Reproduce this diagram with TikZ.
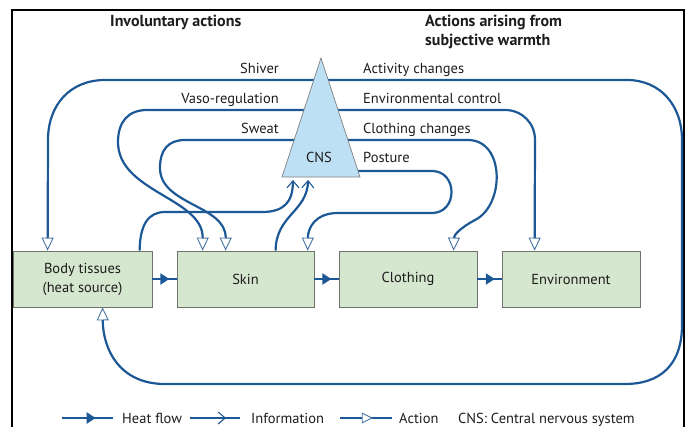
\documentclass[tikz,border=0pt]{standalone}
\usepackage{fontspec}
\setmainfont{PT Sans}
\usetikzlibrary{arrows.meta,decorations.markings,calc}
\definecolor{lineblue}{RGB}{28,88,150}
\definecolor{boxgreen}{RGB}{213,231,207}
\definecolor{boxedge}{RGB}{110,115,110}
\definecolor{cnsblue}{RGB}{190,224,245}
\definecolor{txt}{RGB}{30,28,28}
\definecolor{actedge}{RGB}{70,115,165}
\tikzset{
  Act/.tip={Triangle[length=13pt,width=12pt,color=actedge,fill=white,line width=0.9pt]},
  SAct/.tip={Triangle[length=11pt,width=11pt,color=actedge,fill=white,line width=0.9pt]},
  Inf/.tip={Straight Barb[length=7pt,width=12pt,line width=1.1pt]},
  Heat/.tip={Triangle[length=9pt,width=11pt]},
  flow/.style={draw=lineblue,line width=2.2pt},
  heatmid/.style={postaction={decorate,decoration={markings,mark=at position #1 with {\arrow{Heat}}}}},
  infmid/.style={postaction={decorate,decoration={markings,mark=at position #1 with {\arrow{Inf}}}}},
  actmid/.style={postaction={decorate,decoration={markings,mark=at position #1 with {\arrow{SAct}}}}},
  box/.style={draw=boxedge,fill=boxgreen,line width=0.8pt,minimum height=56pt,inner sep=0pt,text=txt,align=center,font=\fontsize{14.5}{19}\selectfont},
  lab/.style={text=txt,inner sep=0pt,font=\fontsize{14.5}{17}\selectfont},
  ttl/.style={text=txt,inner sep=0pt,align=left,font=\fontsize{16}{18}\selectfont\bfseries},
}
\begin{document}
\begin{tikzpicture}[x=1pt,y=-1pt]
\useasboundingbox (0,0) rectangle (688,426);
\draw[line width=1.6pt] (12,430) -- (12,10) -- (684,10) -- (684,430);

% titles
\node[ttl,anchor=base west] (t1) at (110,26.5) {Involuntary actions};
\node[ttl,anchor=base west] (t2) at (425,26.5) {Actions arising from};
\node[ttl,anchor=base west] (t3) at (425,45) {subjective warmth};

% boxes
\node[box,minimum width=139pt] (body) at (82.5,279) {Body tissues\\(heat source)};
\node[box,minimum width=137pt] (skin) at (245.5,279) {Skin};
\node[box,minimum width=138pt] (cloth) at (408,279) {Clothing};
\node[box,minimum width=138pt] (env) at (571,279) {Environment};

% anchor points
\coordinate (bT) at ($(body.north west)+(35,0)$);
\coordinate (bB) at ($(body.south west)+(90,0)$);
\coordinate (bI) at ($(body.north west)+(127,0)$);
\coordinate (sA) at ($(skin.north west)+(26,0)$);
\coordinate (sB) at ($(skin.north west)+(49,0)$);
\coordinate (sI) at ($(skin.north west)+(99,0)$);
\coordinate (sC) at ($(skin.north west)+(131,0)$);
\coordinate (cA) at ($(cloth.north west)+(115,0)$);
\coordinate (eA) at ($(env.north west)+(33,0)$);
\coordinate (apex) at (321,58);
\coordinate (tl) at (282,177);
\coordinate (tr) at (360,177);
\coordinate (iA) at ($(tl)!0.14!(tr)+(0,3)$);
\coordinate (iB) at ($(tl)!0.335!(tr)+(0,3)$);

% heat flow between boxes
\draw[flow,heatmid=0.7] (body.east) -- (skin.west);
\draw[flow,heatmid=0.7] (skin.east) -- (cloth.west);
\draw[flow,heatmid=0.72] (cloth.east) -- (env.west);

% shiver / activity changes
\draw[flow,{Act}-{Act}] (bT) -- (48,140) .. controls (48,105) and (70,80) .. (105,80) -- (627,80)
  .. controls (660,80) and (682,105) .. (682,140) -- (682,325)
  .. controls (682,365) and (660,384) .. (625,384) -- (165,384)
  .. controls (120,384) and (103,350) .. (bB);
% vaso-regulation / environmental control
\draw[flow,{Act}-{Act}] (sA) .. controls (203,198) and (118,192) .. (118,142)
  .. controls (118,122) and (128,110) .. (147,110) -- (505,110)
  .. controls (522,110) and (535,123) .. (535,140) -- (eA);
% sweat / clothing changes
\draw[flow,{Act}-{Act}] (sB) .. controls (226,205) and (160,205) .. (160,168)
  .. controls (160,150) and (168,140) .. (185,140) -- (468,140)
  .. controls (505,140) and (505,205) .. (475,220)
  .. controls (460,228) and (454,235) .. (cA);
% posture
\draw[flow,-{Act}] (335,171) -- (432,171) .. controls (458,171) and (458,213) .. (432,213) -- (338,213)
  .. controls (315,213) and (308,228) .. (sC);
% information
\draw[flow,-{Inf}] (bI) .. controls (140,225) and (148,212) .. (165,212) -- (262,212)
  .. controls (284,212) and (293,202) .. (iA);
\draw[flow,-{Inf}] (sI) .. controls (276,215) and (307,212) .. (iB);

% CNS triangle
\filldraw[fill=cnsblue,draw=gray,line width=0.7pt] (apex) -- (tl) -- (tr) -- cycle;
\node[lab,anchor=base] (cns) at (319,162) {CNS};

% labels
\node[lab,anchor=base east] (lshiv) at (279,73) {Shiver};
\node[lab,anchor=base east] (lvaso) at (279,103) {Vaso-regulation};
\node[lab,anchor=base east] (lsweat) at (279,133) {Sweat};
\node[lab,anchor=base west] (lact) at (363,73) {Activity changes};
\node[lab,anchor=base west] (lenv) at (363,103) {Environmental control};
\node[lab,anchor=base west] (lclo) at (363,133) {Clothing changes};
\node[lab,anchor=base west] (lpos) at (363,162) {Posture};

% legend
\coordinate (h1) at (62,418); \coordinate (h2) at (113,418);
\coordinate (i1) at (190,418); \coordinate (i2) at (240,418);
\coordinate (a1) at (340,418); \coordinate (a2) at (392,418);
\draw[flow,heatmid=0.66] (h1) -- (h2);
\draw[flow,infmid=0.72] (i1) -- (i2);
\draw[flow,actmid=0.63] (a1) -- (a2);
\node[lab,anchor=base west] (lh) at (122,423.5) {Heat flow};
\node[lab,anchor=base west] (li) at (251,423.5) {Information};
\node[lab,anchor=base west] (la) at (399,423.5) {Action};
\node[lab,anchor=base west] (lc) at (458,423.5) {CNS: Central nervous system};
\end{tikzpicture}
\end{document}
